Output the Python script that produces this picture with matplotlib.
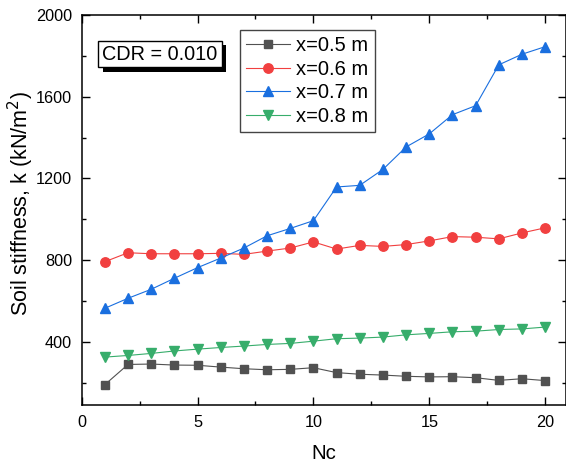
import matplotlib.pyplot as plt
from matplotlib.ticker import MultipleLocator
import matplotlib.patheffects as pe

plt.rcParams['font.family'] = ['Liberation Sans', 'DejaVu Sans']

# Dados
nc = list(range(1, 21))
k_05 = [190, 289, 291, 286, 285, 276, 268, 263, 265, 273,
        249, 241, 237, 231, 228, 229, 224, 211, 219, 210]
k_06 = [792, 836, 831, 831, 831, 833, 828, 844, 859, 889,
        854, 872, 867, 876, 894, 915, 912, 904, 933, 958]
k_07 = [564, 613, 657, 711, 763, 810, 859, 919, 955, 993,
        1158, 1166, 1244, 1354, 1418, 1512, 1556, 1756, 1808, 1845]
k_08 = [325, 333, 343, 355, 364, 372, 379, 387, 392, 403,
        415, 418, 423, 434, 441, 449, 452, 460, 463, 472]

series = [
    ('x=0.5 m', k_05, '#515151', 's', 6.3),
    ('x=0.6 m', k_06, '#F14040', 'o', 6.8),
    ('x=0.7 m', k_07, '#1A6FDF', '^', 7.6),
    ('x=0.8 m', k_08, '#37AD6B', 'v', 7.6),
]

fig = plt.figure(figsize=(5.66, 4.65), dpi=100)
ax = fig.add_axes([0.1443, 0.1284, 0.8557, 0.8393])

for label, vals, cor, mk, ms in series:
    ax.plot(nc, vals, color=cor, marker=mk, markersize=ms, linewidth=0.8,
            label=label)

ax.set_xlim(0, 20.9)
ax.set_ylim(89, 2000)
ax.xaxis.set_major_locator(MultipleLocator(5))
ax.xaxis.set_minor_locator(MultipleLocator(2.5))
ax.yaxis.set_major_locator(MultipleLocator(400))
ax.yaxis.set_minor_locator(MultipleLocator(200))
ax.tick_params(which='both', direction='in', top=True, right=True,
               labelsize=11.7, width=1, pad=7)
ax.tick_params(which='major', length=5.5)
ax.tick_params(which='minor', length=3)
for s in ax.spines.values():
    s.set_linewidth(1.1)

ax.set_xlabel('Nc', fontsize=14.7, labelpad=10)
ax.set_ylabel('Soil stiffness, k (kN/m$^2$)', fontsize=15.5, labelpad=0)
ax.yaxis.label.set_y(0.518)

leg = ax.legend(loc='upper left', bbox_to_anchor=(240 / 566, 1 - 30 / 465),
                bbox_transform=fig.transFigure, borderaxespad=0,
                fontsize=14.5, fancybox=False, edgecolor='#444444',
                framealpha=1, handlelength=2.2, borderpad=0.3,
                labelspacing=0.23, handletextpad=0.3)
leg.get_frame().set_linewidth(1)

fig.text(160 / 566, 1 - 54 / 465, 'CDR = 0.010', fontsize=14.3,
         ha='center', va='center',
         bbox=dict(boxstyle='square,pad=0.2', facecolor='white',
                   edgecolor='black', linewidth=1,
                   path_effects=[pe.SimplePatchShadow(offset=(3.5, -3.5),
                                                      shadow_rgbFace='black',
                                                      alpha=1), pe.Normal()]))

fig.savefig('out.png', dpi=100)
